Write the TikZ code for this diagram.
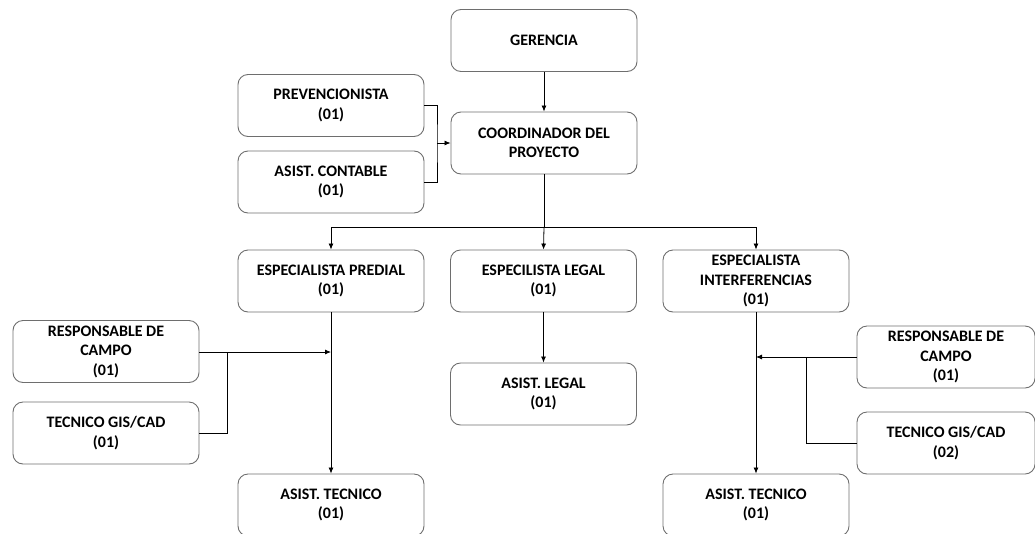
\documentclass[tikz,border=0pt]{standalone}
\usepackage{fontspec}
\setmainfont{Carlito}
\usetikzlibrary{arrows.meta}
\definecolor{boxline}{HTML}{6E6E6E}
\tikzset{
  box/.style={draw=boxline, line width=0.9pt, rounded corners=10pt, minimum width=186pt, minimum height=62pt,
    align=center, inner sep=2pt, font=\bfseries\fontsize{16}{19.5}\selectfont},
  link/.style={draw=black, line width=0.8pt},
  arr/.style={link, -{Latex[length=6pt,width=5pt]}}
}
\begin{document}
\begin{tikzpicture}[x=1pt,y=-1pt]
\useasboundingbox (0,0) rectangle (1035,533);
\node[box] (ger) at (544,40.5) {GERENCIA};
\node[box] (coord) at (544,143) {COORDINADOR DEL\\PROYECTO};
\node[box] (prev) at (331,105.5) {PREVENCIONISTA\\(01)};
\node[box] (cont) at (331,182) {ASIST. CONTABLE\\(01)};
\node[box] (pred) at (331,281) {ESPECIALISTA PREDIAL\\(01)};
\node[box] (legal) at (543.5,281) {ESPECILISTA LEGAL\\(01)};
\node[box] (inter) at (756,281) {ESPECIALISTA\\INTERFERENCIAS\\(01)};
\node[box] (alegal) at (543.5,394) {ASIST. LEGAL\\(01)};
\node[box] (respL) at (106,351.5) {RESPONSABLE DE\\CAMPO\\(01)};
\node[box] (tecL) at (106,433) {TECNICO GIS/CAD\\(01)};
\node[box] (atecL) at (331,505) {ASIST. TECNICO\\(01)};
\node[box, minimum width=178pt] (respR) at (946,357) {RESPONSABLE DE\\CAMPO\\(01)};
\node[box, minimum width=178pt] (tecR) at (946,443) {TECNICO GIS/CAD\\(02)};
\node[box] (atecR) at (756,505) {ASIST. TECNICO\\(01)};
% coordinates
\coordinate (pj) at (437,143);
\coordinate (bus) at (ger.south |- 0,227);
\coordinate (lj) at (227,352);
\coordinate (la) at (331,352);
\coordinate (rj) at (806,357);
\coordinate (ra) at (756,357);
% connectors
\draw[arr] (ger.south) -- (coord.north);
\draw[link] (prev.east) -| (pj) |- (cont.east);
\draw[arr] (pj) -- (coord.west);
\draw[link] (coord.south) -- (bus);
\draw[link] (pred.north |- bus) -- (inter.north |- bus);
\draw[arr] (pred.north |- bus) -- (pred.north);
\draw[arr] (bus) -- (legal.north);
\draw[arr] (inter.north |- bus) -- (inter.north);
\draw[arr] (legal.south) -- (alegal.north);
\draw[arr] (pred.south) -- (atecL.north);
\draw[arr] (respL.east |- la) -- (la);
\draw[link] (tecL.east) -| (lj);
\draw[arr] (inter.south) -- (atecR.north);
\draw[arr] (respR.west) -- (ra);
\draw[link] (tecR.west) -| (rj);
\end{tikzpicture}
\end{document}
